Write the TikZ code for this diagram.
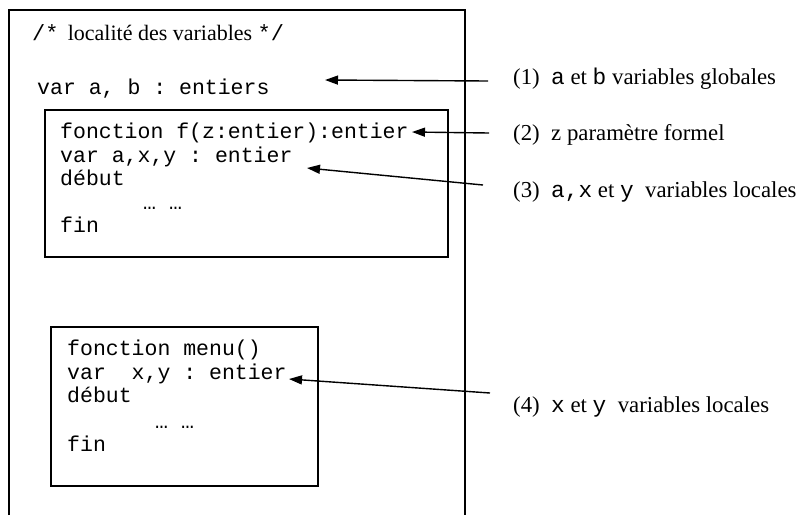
\documentclass[tikz,border=0pt]{standalone}
\usepackage{fontspec}
\setmainfont{Liberation Serif}
\setmonofont{Liberation Mono}
\usetikzlibrary{arrows.meta}
\begin{document}
\begin{tikzpicture}[x=1pt,y=-1pt,
  box/.style={draw=black,line width=1.8pt},
  code/.style={anchor=base west,inner sep=0pt,font=\fontsize{21.5}{24}\ttfamily},
  lbl/.style={anchor=base west,inner sep=0pt,font=\fontsize{22.8}{26}\rmfamily},
  ttl/.style={anchor=base west,inner sep=0pt,font=\fontsize{22}{26}\rmfamily},
  arr/.style={line width=1.4pt,-{Triangle[length=13pt,width=9pt]}}]
\useasboundingbox[fill=white] (0,0) rectangle (805,515);
% outer frame (open at the bottom)
\draw[box] (9,515) -- (9,10) -- (465,10) -- (465,515);
% inner boxes
\draw[box] (45,110) rectangle (448,257);
\draw[box] (51,327) rectangle (318,486);
% texts in outer frame
\node[ttl] (title) at (32,40) {\texttt{/*}\, localité des variables \texttt{*/}};
\node[code] (glob) at (37,94) {var a, b : entiers};
% box 1
\node[code] (f1) at (60,138) {fonction f(z:entier):entier};
\node[code] (f2) at (60,162) {var a,x,y : entier};
\node[code] (f3) at (60,185) {début};
\node[code] (f4) at (143,209) {… …};
\node[code] (f5) at (60,232) {fin};
% box 2
\node[code] (m1) at (67,355) {fonction menu()};
\node[code] (m2) at (67,379) {var\ \ x,y : entier};
\node[code] (m3) at (67,402) {début};
\node[code] (m4) at (155,428) {… …};
\node[code] (m5) at (67,451) {fin};
% right labels
\node[lbl] (l1) at (513,84) {(1)\ \ \texttt{a} et \texttt{b} variables globales};
\node[lbl] (l2) at (513,140) {(2)\ \ z paramètre formel};
\node[lbl] (l3) at (513,197) {(3)\ \ \texttt{a,x} et \texttt{y}\ \ variables locales};
\node[lbl] (l4) at (513,412) {(4)\ \ \texttt{x} et \texttt{y}\ \ variables locales};
% arrow ends
\coordinate (s1) at (488,81);  \coordinate (t1) at (325,80);
\coordinate (s2) at (489,133); \coordinate (t2) at (412,132);
\coordinate (s3) at (483,185); \coordinate (t3) at (307,168);
\coordinate (s4) at (490,393); \coordinate (t4) at (289,379);
\draw[arr] (s1) -- (t1);
\draw[arr] (s2) -- (t2);
\draw[arr] (s3) -- (t3);
\draw[arr] (s4) -- (t4);
\end{tikzpicture}
\end{document}
